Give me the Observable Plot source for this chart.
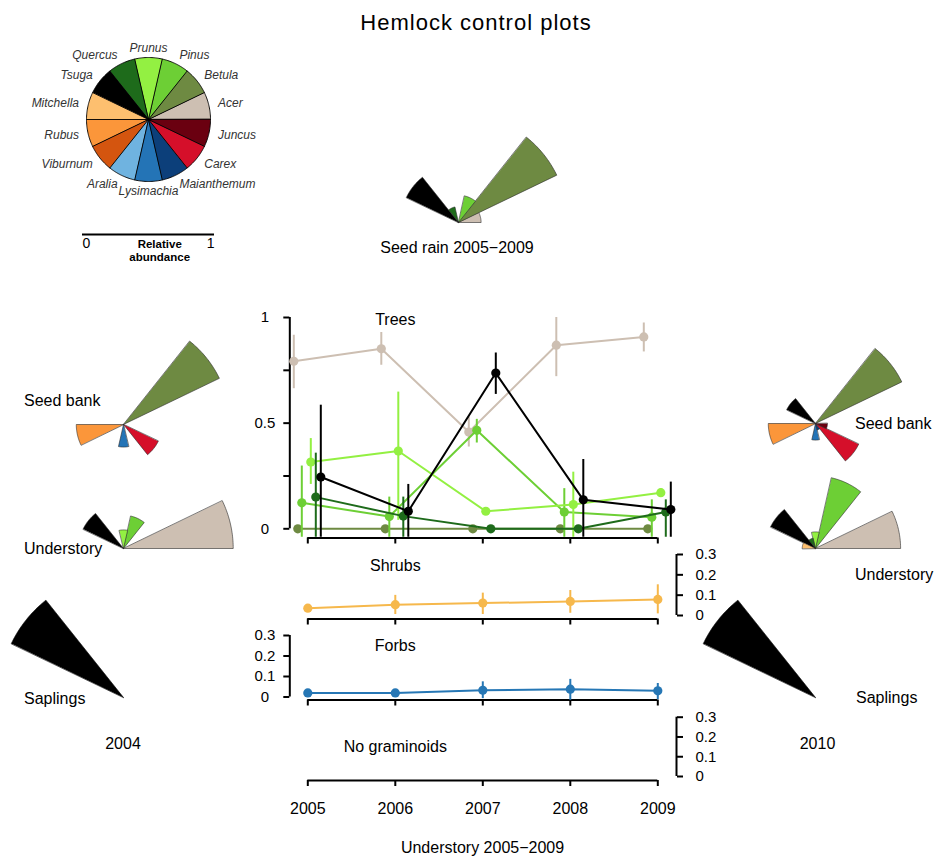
<!DOCTYPE html>
<html><head><meta charset="utf-8">
<script src="https://cdn.jsdelivr.net/npm/d3@7"></script>
<script src="https://cdn.jsdelivr.net/npm/@observablehq/plot@0.6"></script>
<style>
html,body{margin:0;padding:0;background:#fff;}
#chart{position:relative;width:937px;height:860px;overflow:hidden;font-family:"Liberation Sans",Arial,sans-serif;color:#000;background:#fff;}
.lbl{position:absolute;white-space:nowrap;}
</style></head><body><div id="chart"></div><script>
// ---------------- DATA ----------------
const species = ["Acer","Betula","Pinus","Prunus","Quercus","Tsuga","Mitchella","Rubus","Viburnum","Aralia","Lysimachia","Maianthemum","Carex","Juncus"];
const speciesColors = ["#cdbfb2","#6e8a42","#6dcf35","#93f042","#1e6b1b","#000000","#fdbf6f","#fb963a","#d4550f","#6fb3e0","#2474b6","#0c3f7a","#d50f2a","#6a0010"];
const years = [2005, 2006, 2007, 2008, 2009];

// Rose diagrams: relative abundance by species
const seedRainSpecies = ["Acer","Betula","Pinus","Quercus","Tsuga"];
const seedRainValues  = [0.17, 0.82, 0.205, 0.12, 0.435];
const seedBank2004Species = ["Betula","Rubus","Lysimachia","Carex"];
const seedBank2004Values  = [0.80, 0.355, 0.17, 0.29];
const understory2004Species = ["Acer","Pinus","Prunus","Tsuga"];
const understory2004Values  = [0.825, 0.25, 0.14, 0.337];
const saplings2004Species = ["Tsuga"];
const saplings2004Values  = [0.936];
const seedBank2010Species = ["Betula","Tsuga","Rubus","Lysimachia","Maianthemum","Carex","Juncus"];
const seedBank2010Values  = [0.72, 0.24, 0.355, 0.125, 0.05, 0.36, 0.09];
const understory2010Species = ["Acer","Pinus","Prunus","Quercus","Tsuga","Mitchella"];
const understory2010Values  = [0.64, 0.545, 0.125, 0.08, 0.375, 0.1];
const saplings2010Species = ["Tsuga"];
const saplings2010Values  = [0.936];

// Understory 2005-2009: trees (mean, lower, upper)
const treeSpecies = ["Acer","Betula","Pinus","Prunus","Quercus","Tsuga"];
const acerMean = [0.793, 0.852, 0.458, 0.869, 0.908];
const acerLo   = [0.663, 0.774, 0.387, 0.720, 0.837];
const acerHi   = [0.916, 0.929, 0.529, 1.000, 0.974];
const betulaMean = [0, 0, 0, 0, 0];
const betulaLo   = [0, 0, 0, 0, 0];
const betulaHi   = [0, 0, 0, 0, 0];
const pinusMean = [0.123, 0.058, 0.466, 0.079, 0.055];
const pinusLo   = [-0.04, -0.04, 0.406, -0.04, -0.04];
const pinusHi   = [0.297, 0.150, 0.518, 0.190, 0.137];
const prunusMean = [0.316, 0.368, 0.083, 0.115, 0.171];
const prunusLo   = [0.210, 0.040, 0.070, -0.04, 0.150];
const prunusHi   = [0.427, 0.647, 0.095, 0.268, 0.190];
const quercusMean = [0.150, 0.060, 0, 0, 0.079];
const quercusLo   = [-0.04, -0.04, 0, 0, -0.04];
const quercusHi   = [0.358, 0.150, 0, 0, 0.137];
const tsugaMean = [0.245, 0.083, 0.737, 0.137, 0.091];
const tsugaLo   = [-0.04, -0.04, 0.636, -0.04, -0.04];
const tsugaHi   = [0.585, 0.210, 0.832, 0.328, 0.221];

const shrubMean = [0.036, 0.053, 0.061, 0.069, 0.079];
const shrubLo   = [0.030, 0.005, 0.005, 0.011, 0.008];
const shrubHi   = [0.042, 0.099, 0.110, 0.123, 0.151];
const forbMean = [0.020, 0.020, 0.033, 0.038, 0.030];
const forbLo   = [0.015, 0.004, -0.008, -0.016, -0.013];
const forbHi   = [0.025, 0.036, 0.074, 0.086, 0.066];

const treeTicks = [0, 0.25, 0.5, 0.75, 1];
const treeTickLabels = ["0", "", "0.5", "", "1"];
const smallTicks = [0, 0.1, 0.2, 0.3];
const smallTickLabels = ["0", "0.1", "0.2", "0.3"];
const scaleBarTicks = [0, 1];
const shrubColor = "#f6b84c";
const forbColor = "#2677b5";

// ---------------- LAYOUT ----------------
const chart = document.getElementById("chart");
const FONT = "'Liberation Sans', Arial, sans-serif";
const baseStyle = {background: "transparent", overflow: "visible", fontFamily: FONT, fontSize: "16px"};
const colorScale = {domain: species, range: speciesColors};
const treeDodgePx = [-14, -10, -6, 3, 8, 13];
const treeData = {
  Acer: [acerMean, acerLo, acerHi], Betula: [betulaMean, betulaLo, betulaHi],
  Pinus: [pinusMean, pinusLo, pinusHi], Prunus: [prunusMean, prunusLo, prunusHi],
  Quercus: [quercusMean, quercusLo, quercusHi], Tsuga: [tsugaMean, tsugaLo, tsugaHi]
};
const colorOf = sp => speciesColors[species.indexOf(sp)];

function place(node, left, top) {
  node.style.position = "absolute";
  node.style.left = left + "px";
  node.style.top = top + "px";
  chart.appendChild(node);
}
function label(text, x, baseline, {size = 16, anchor = "start", weight = "normal", spacing = 0} = {}) {
  const d = document.createElement("div");
  d.className = "lbl";
  d.textContent = text;
  d.style.fontSize = size + "px";
  d.style.lineHeight = size + "px";
  d.style.fontWeight = weight;
  if (spacing) d.style.letterSpacing = spacing + "px";
  d.style.top = (baseline - 0.8465 * size) + "px";
  d.style.left = x + "px";
  if (anchor === "middle") d.style.transform = "translateX(-50%)";
  chart.appendChild(d);
}

const STEP = 2 * Math.PI / species.length;
function wedgeRows(names, values) {
  const rows = [];
  names.forEach((sp, k) => {
    const i = species.indexOf(sp), r = values[k];
    if (!(r > 0)) return;
    rows.push({sp, x: 0, y: 0});
    for (let j = 0; j <= 24; j++) {
      const a = (i + j / 24) * STEP;
      rows.push({sp, x: r * Math.cos(a), y: r * Math.sin(a)});
    }
  });
  return rows;
}
function rose(names, values, cx, cy, {unit = 133, half = 140, stroke = "#2a2a2a", strokeWidth = 0.6, extra = []} = {}) {
  const lim = half / unit;
  const p = Plot.plot({
    width: 2 * half, height: 2 * half, margin: 0,
    x: {domain: [-lim, lim], axis: null},
    y: {domain: [-lim, lim], axis: null},
    color: colorScale,
    style: baseStyle,
    marks: [
      Plot.line(wedgeRows(names, values), {x: "x", y: "y", z: "sp", fill: "sp", stroke, strokeWidth, curve: "linear-closed"}),
      ...extra
    ]
  });
  place(p, cx - half, cy - half);
}

// ---- Legend pie ----
const pieLabels = species.map((sp, i) => {
  const a = (i + 0.5) * STEP;
  return {sp, x: 1.15 * Math.cos(a), y: 1.15 * Math.sin(a), c: Math.cos(a)};
});
const pieText = (filter, anchor) => Plot.text(pieLabels.filter(filter), {x: "x", y: "y", text: "sp", textAnchor: anchor, fontStyle: "italic", fontSize: 12, fill: "#333"});
rose(species, species.map(() => 1), 148.3, 119.3, {
  unit: 62, half: 130, stroke: "#000", strokeWidth: 0.9,
  extra: [pieText(d => d.c > 0.2, "start"), pieText(d => d.c < -0.2, "end"), pieText(d => Math.abs(d.c) <= 0.2, "middle")]
});

// ---- Scale bar ----
const bar = Plot.plot({
  width: 132, height: 40, marginTop: 0, marginBottom: 30, marginLeft: 0, marginRight: 0,
  x: {domain: [0, 1], axis: null}, y: {domain: [0, 1], axis: null},
  style: baseStyle,
  marks: [
    Plot.ruleY([0], {x1: 0, x2: 1, strokeWidth: 2}),
    Plot.text([scaleBarTicks[0]], {x: d => d, text: d => String(d), frameAnchor: "bottom", lineAnchor: "top", dy: 4, textAnchor: "start", fontSize: 14}),
    Plot.text([scaleBarTicks[1]], {x: d => d, text: d => String(d), frameAnchor: "bottom", lineAnchor: "top", dy: 4, textAnchor: "end", fontSize: 14}),
    Plot.text(["Relative\nabundance"], {x: 0.585, text: d => d, frameAnchor: "bottom", lineAnchor: "top", dy: 4.5, fontSize: 11.5, fontWeight: "bold", lineHeight: 1.12})
  ]
});
place(bar, 82, 224);

// ---- Roses ----
rose(seedRainSpecies, seedRainValues, 458.3, 221.7);
rose(seedBank2004Species, seedBank2004Values, 123.3, 424.3);
rose(understory2004Species, understory2004Values, 123.3, 548.3);
rose(saplings2004Species, saplings2004Values, 123.3, 697.3, {stroke: "#000"});
rose(seedBank2010Species, seedBank2010Values, 815, 423.3);
rose(understory2010Species, understory2010Values, 815, 548.3);
rose(saplings2010Species, saplings2010Values, 815, 697.3, {stroke: "#000"});

// ---- Time-series panels ----
const PL = 230, PW = 500, AXL = 289.3, AXR = 676, X5 = 307.3, X9 = 657.3;
function panel({top, height, yMax, yTopPx, yZeroPx, axisPx, side, ticks, tickLabels, xLabels = false, title, titleDy, marks}) {
  const marginTop = yTopPx - top;
  const insetBottom = axisPx - yZeroPx;
  const marginBottom = height - (axisPx - top);
  const insetLeft = side === "left" ? X5 - AXL : 0;
  const insetRight = side === "right" ? AXR - X9 : 0;
  const marginLeft = (side === "left" ? AXL : X5) - PL;
  const marginRight = PL + PW - (side === "right" ? AXR : X9);
  const p = Plot.plot({
    width: PW, height, marginTop, marginBottom, marginLeft, marginRight,
    x: {domain: [years[0], years[years.length - 1]], insetLeft, insetRight, label: null},
    y: {domain: [0, yMax], insetBottom, label: null},
    style: baseStyle,
    marks: [
      Plot.ruleY([0], {x1: years[0], x2: years[years.length - 1], dy: insetBottom, strokeWidth: 2}),
      Plot.axisX({ticks: years, tickSize: 6, strokeWidth: 2, tickPadding: 16.6, fontSize: 16, label: null,
                  tickFormat: xLabels ? (d => String(d)) : (() => "")}),
      Plot.ruleX([side === "left" ? years[0] : years[years.length - 1]], {y1: 0, y2: yMax, dx: side === "left" ? -insetLeft : insetRight, strokeWidth: 2}),
      Plot.axisY({anchor: side, ticks, tickFormat: d => tickLabels[ticks.indexOf(d)], tickSize: 6,
                  tickPadding: side === "left" ? 19 : 13, textAnchor: side === "left" ? "middle" : "start",
                  strokeWidth: 2, fontSize: 15, label: null}),
      Plot.text([title], {x: 2006, text: d => d, frameAnchor: "top", dy: titleDy, fontSize: 16}),
      ...marks
    ]
  });
  place(p, PL, top);
}
function seriesMarks(mean, lo, hi, color, dx = 0) {
  const rows = years.map((year, j) => ({year, mean: mean[j], lo: lo[j], hi: hi[j]}));
  return [
    Plot.line(rows, {x: "year", y: "mean", stroke: color, strokeWidth: 2, dx}),
    Plot.ruleX(rows.filter(d => d.hi > d.lo), {x: "year", y1: "lo", y2: "hi", stroke: color, strokeWidth: 2, dx}),
    Plot.dot(rows, {x: "year", y: "mean", fill: color, r: 4.6, dx})
  ];
}

panel({top: 300, height: 260, yMax: 1, yTopPx: 317, yZeroPx: 528.3, axisPx: 537.5, side: "left",
  ticks: treeTicks, tickLabels: treeTickLabels, title: "Trees", titleDy: -3.5,
  marks: treeSpecies.flatMap((sp, i) => seriesMarks(...treeData[sp], colorOf(sp), treeDodgePx[i]))});

panel({top: 540, height: 100, yMax: 0.3, yTopPx: 554, yZeroPx: 615, axisPx: 618.5, side: "right",
  ticks: smallTicks, tickLabels: smallTickLabels, title: "Shrubs", titleDy: 5.5,
  marks: seriesMarks(shrubMean, shrubLo, shrubHi, shrubColor)});

panel({top: 620, height: 100, yMax: 0.3, yTopPx: 635, yZeroPx: 696.5, axisPx: 699.5, side: "left",
  ticks: smallTicks, tickLabels: smallTickLabels, title: "Forbs", titleDy: 4.5,
  marks: seriesMarks(forbMean, forbLo, forbHi, forbColor)});

panel({top: 700, height: 130, yMax: 0.3, yTopPx: 716.7, yZeroPx: 776, axisPx: 780, side: "right",
  ticks: smallTicks, tickLabels: smallTickLabels, xLabels: true, title: "No graminoids", titleDy: 23,
  marks: []});

// ---- Text labels ----
label("Hemlock control plots", 476, 30.5, {size: 22, anchor: "middle", spacing: 1});
label("Seed rain 2005\u22122009", 457, 253.5, {anchor: "middle"});
label("Seed bank", 24, 407);
label("Understory", 24, 555);
label("Saplings", 24, 704.5);
label("2004", 123, 749.5, {anchor: "middle"});
label("Seed bank", 855, 429.5);
label("Understory", 855, 580.5);
label("Saplings", 856, 703.5);
label("2010", 817.5, 749.5, {anchor: "middle"});
label("Understory 2005\u22122009", 482.5, 853.5, {anchor: "middle"});
</script></body></html>
